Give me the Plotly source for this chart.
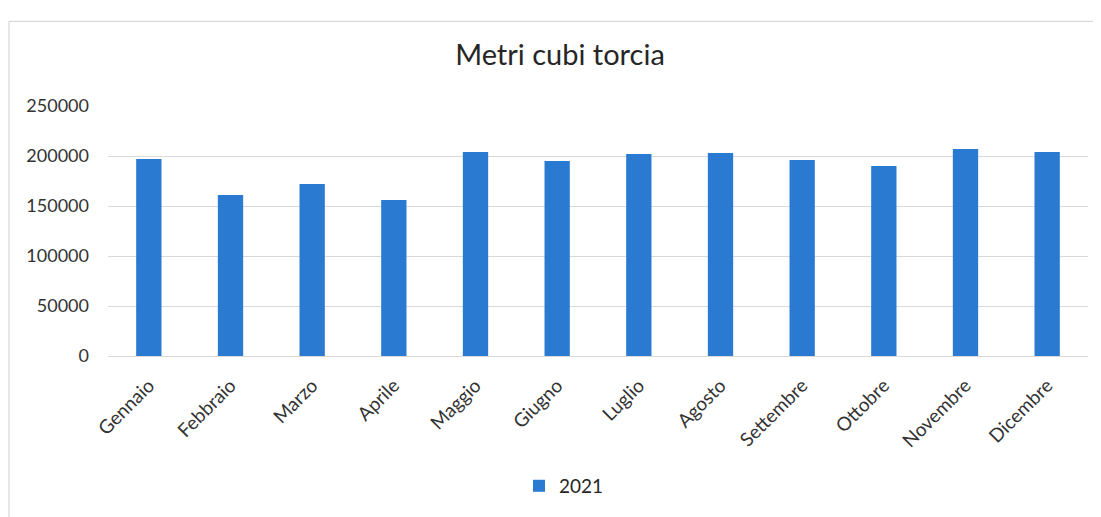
import plotly.graph_objects as go

mesi = ["Gennaio", "Febbraio", "Marzo", "Aprile", "Maggio", "Giugno",
        "Luglio", "Agosto", "Settembre", "Ottobre", "Novembre", "Dicembre"]
valori_2021 = [197000, 161000, 172000, 156000, 204000, 195000,
               202000, 203000, 196000, 190000, 207000, 204000]
tick_vals = [0, 50000, 100000, 150000, 200000, 250000]
tick_text = ["0", "50000", "100000", "150000", "200000", "250000"]

FONT = "Lato, 'Open Sans', sans-serif"

fig = go.Figure()
fig.add_trace(go.Bar(x=mesi, y=valori_2021, name="2021",
                     marker=dict(color="#2A7AD1", line=dict(width=0))))

OFF = 8  # page body margin
W, H = 1101 - OFF, 517 - OFF
L, R, T, B = 108 - OFF, 13, 106 - OFF, 157
pw, ph = W - L - R, H - T - B

def px_x(x):
    return (x - OFF - L) / pw

def px_y(y):
    return (H - B - (y - OFF)) / ph

fig.update_layout(
    width=W, height=H,
    margin=dict(l=L, r=R, t=T, b=B),
    paper_bgcolor="white", plot_bgcolor="white",
    bargap=0.69,
    font=dict(family=FONT, color="#333333"),
    title=dict(text="Metri cubi torcia", font=dict(size=29, color="#262626", family=FONT),
               x=px_x(560), xref="paper", xanchor="center",
               y=1 - (55 - OFF) / H, yref="container", yanchor="middle"),
    xaxis=dict(tickangle=-45, tickfont=dict(size=19, color="#333333"),
               showgrid=False, showline=True, linecolor="#d9d9d9", ticks="",
               ticklabelstandoff=10),
    yaxis=dict(range=[0, 250000], tickvals=tick_vals, ticktext=tick_text,
               tickfont=dict(size=18, color="#333333"),
               showgrid=True, gridcolor="#d9d9d9", zeroline=False, ticks="",
               showline=False, ticklabelstandoff=18),
    showlegend=True,
    legend=dict(orientation="h", x=px_x(564), xanchor="center",
                y=px_y(492), yanchor="middle", font=dict(size=19, color="#262626"),
                itemwidth=30),
    shapes=[dict(type="rect", xref="paper", yref="paper",
                 x0=px_x(9), x1=px_x(1120), y0=px_y(540), y1=px_y(20),
                 line=dict(color="#d0d0d0", width=1), fillcolor="rgba(0,0,0,0)")],
)

fig.write_html("out.html")
